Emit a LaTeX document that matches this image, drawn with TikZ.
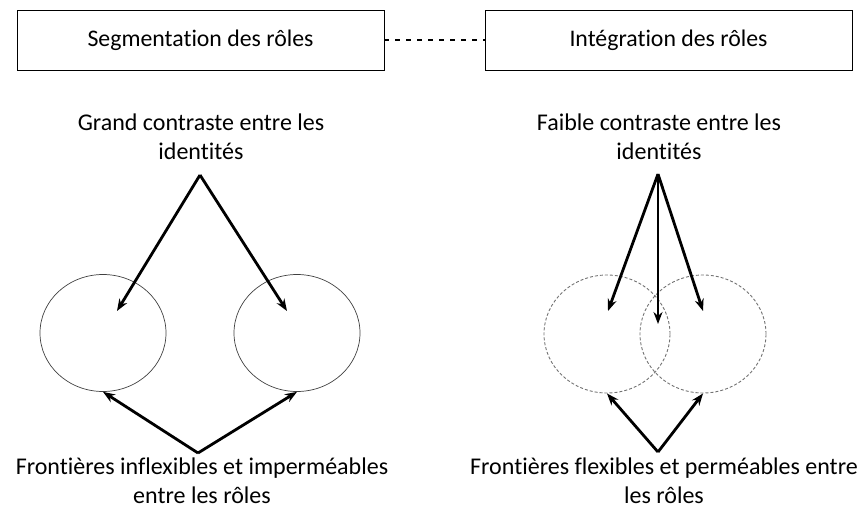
\documentclass[tikz,border=0pt]{standalone}
\usepackage{fontspec}
\setmainfont{Carlito}[Ligatures={NoCommon,NoContextual},RawFeature={-liga,-clig}]
\usetikzlibrary{arrows.meta,shapes.geometric}
\begin{document}
\begin{tikzpicture}[x=1pt,y=-1pt,
  box/.style={draw,line width=0.9pt,minimum width=367pt,minimum height=60pt,inner sep=0pt,font=\fontsize{23.8}{28}\selectfont},
  lbl/.style={align=center,font=\fontsize{24}{29}\selectfont,inner sep=0pt},
  circ/.style={draw=black!75,line width=0.7pt,ellipse,minimum width=126pt,minimum height=117pt,inner sep=0pt},
  dcirc/.style={draw=black!55,line width=0.9pt,dashed,dash pattern=on 3pt off 2pt,ellipse,minimum width=126pt,minimum height=118pt,inner sep=0pt},
  arr/.style={line width=2.8pt,-{Stealth[length=12pt,width=9pt]}}]
\useasboundingbox (0,0) rectangle (865,511);
\node[box] (seg) at (200.5,40) {Segmentation des rôles};
\node[box] (int) at (668.5,40) {Intégration des rôles};
\draw[line width=2.4pt,dash pattern=on 5pt off 6pt] (seg.east) -- (int.west);
% left side
\node[lbl] (gc) at (201,137) {Grand contraste entre les\\identités};
\coordinate (ga) at (200,175);
\node[circ] (c1) at (103,333) {};
\node[circ] (c2) at (297,333) {};
\coordinate (c1in) at (117,311);
\coordinate (c2in) at (287,311);
\draw[arr] (ga) -- (c1in);
\draw[arr] (ga) -- (c2in);
\coordinate (fa) at (198,453);
\draw[arr] (fa) -- (c1.south);
\draw[arr] (fa) -- (c2.south);
\node[lbl] (fi) at (202,481) {Frontières inflexibles et imperméables\\entre les rôles};
% right side
\node[lbl] (fc) at (659,137) {Faible contraste entre les\\identités};
\coordinate (fca) at (658,174);
\node[dcirc] (d1) at (607,334) {};
\node[dcirc] (d2) at (703,334) {};
\coordinate (d1in) at (608,311);
\coordinate (dmid) at (658,324);
\coordinate (d2in) at (703,311);
\draw[arr] (fca) -- (d1in);
\draw[arr] (fca) -- (dmid);
\draw[arr] (fca) -- (d2in);
\coordinate (fb) at (658,452);
\draw[arr] (fb) -- (d1.south);
\draw[arr] (fb) -- (d2.south);
\node[lbl] (ff) at (664,481) {Frontières flexibles et perméables entre\\les rôles};
\end{tikzpicture}
\end{document}
